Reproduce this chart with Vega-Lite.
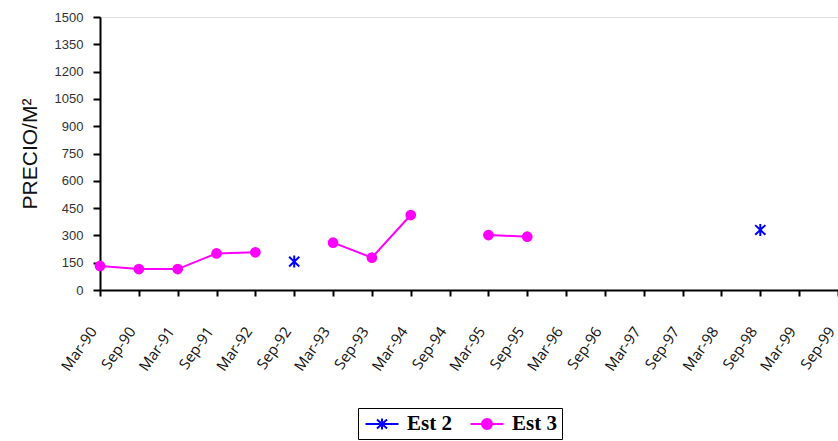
{
  "$schema": "https://vega.github.io/schema/vega-lite/v6.json",
  "width": 738,
  "height": 273,
  "autosize": {"type": "none"},
  "padding": {"left": 100, "top": 17, "right": 0, "bottom": 151},
  "background": "white",
  "data": {
    "values": [
      {"fecha": "Mar-90", "serie": "Est 3", "precio": 132},
      {"fecha": "Sep-90", "serie": "Est 3", "precio": 115},
      {"fecha": "Mar-91", "serie": "Est 3", "precio": 115},
      {"fecha": "Sep-91", "serie": "Est 3", "precio": 201},
      {"fecha": "Mar-92", "serie": "Est 3", "precio": 207},
      {"fecha": "Sep-92", "serie": "Est 3", "precio": null},
      {"fecha": "Mar-93", "serie": "Est 3", "precio": 260},
      {"fecha": "Sep-93", "serie": "Est 3", "precio": 178},
      {"fecha": "Mar-94", "serie": "Est 3", "precio": 412},
      {"fecha": "Sep-94", "serie": "Est 3", "precio": null},
      {"fecha": "Mar-95", "serie": "Est 3", "precio": 302},
      {"fecha": "Sep-95", "serie": "Est 3", "precio": 293},
      {"fecha": "Sep-92", "serie": "Est 2", "precio": 156},
      {"fecha": "Sep-98", "serie": "Est 2", "precio": 330}
    ]
  },
  "encoding": {
    "x": {
      "field": "fecha",
      "type": "ordinal",
      "sort": null,
      "scale": {
        "type": "point",
        "padding": 0,
        "domain": ["Mar-90","Sep-90","Mar-91","Sep-91","Mar-92","Sep-92","Mar-93","Sep-93","Mar-94","Sep-94","Mar-95","Sep-95","Mar-96","Sep-96","Mar-97","Sep-97","Mar-98","Sep-98","Mar-99","Sep-99"]
      },
      "axis": {
        "title": null,
        "labelAngle": -55,
        "labelAlign": "right",
        "labelBaseline": "middle",
        "labelOffset": -7,
        "labelPadding": 32,
        "labelFont": "Open Sans",
        "labelFontSize": 15,
        "labelColor": "#111111",
        "tickSize": 6,
        "tickWidth": 2,
        "tickColor": "black",
        "domainColor": "black",
        "domainWidth": 2,
        "grid": false
      }
    },
    "y": {
      "field": "precio",
      "type": "quantitative",
      "scale": {"domain": [0, 1500], "nice": false, "zero": true},
      "axis": {
        "title": "PRECIO/M²",
        "titleFont": "Liberation Sans",
        "titleFontSize": 21,
        "titleFontWeight": "normal",
        "titleColor": "#111111",
        "titlePadding": 14,
        "format": "d",
        "values": [0,150,300,450,600,750,900,1050,1200,1350,1500],
        "labelFont": "Liberation Sans",
        "labelFontSize": 13,
        "labelColor": "#333333",
        "labelPadding": 10,
        "tickSize": 7,
        "tickWidth": 2,
        "tickColor": "black",
        "domainColor": "black",
        "domainWidth": 2,
        "grid": false
      }
    },
    "color": {
      "field": "serie",
      "type": "nominal",
      "scale": {"domain": ["Est 2", "Est 3"], "range": ["#0000FF", "#FF00FF"]},
      "legend": {
        "title": null,
        "orient": "none",
        "legendX": 258,
        "legendY": 391,
        "direction": "horizontal",
        "columns": 2,
        "columnPadding": 14,
        "padding": 5,
        "strokeColor": "black",
        "fillColor": "white",
        "symbolSize": 400,
        "symbolOffset": 8,
        "symbolStrokeWidth": 2,
        "symbolOpacity": 1,
        "labelFont": "Liberation Serif",
        "labelFontWeight": "bold",
        "labelFontSize": 21,
        "labelColor": "black",
        "labelOffset": 14,
        "encode": {
          "symbols": {
            "update": {
              "shape": {"signal": "datum.value == 'Est 2' ? 'M-1.65,0H1.65M0,-0.55V0.55M-0.5,-0.45L0.5,0.45M-0.5,0.45L0.5,-0.45' : 'M-1.65,0H1.65M0.5,0A0.5,0.5,0,1,1,-0.5,0A0.5,0.5,0,1,1,0.5,0Z'"},
              "fill": {"signal": "datum.value == 'Est 2' ? '#0000FF' : '#FF00FF'"},
              "stroke": {"signal": "datum.value == 'Est 2' ? '#0000FF' : '#FF00FF'"}
            }
          }
        }
      }
    }
  },
  "layer": [
    {
      "transform": [{"filter": "datum.serie == 'Est 3'"}],
      "mark": {"type": "line", "strokeWidth": 2, "invalid": "break-paths-show-domains"}
    },
    {
      "transform": [{"filter": "datum.serie == 'Est 3' && datum.precio != null"}],
      "mark": {"type": "circle", "size": 115, "opacity": 1}
    },
    {
      "transform": [{"filter": "datum.serie == 'Est 2'"}],
      "mark": {
        "type": "point",
        "filled": false,
        "opacity": 1,
        "strokeWidth": 2,
        "size": 144,
        "shape": "M0,-1V1M-0.85,-0.8L0.85,0.8M-0.85,0.8L0.85,-0.8"
      }
    }
  ]
}
